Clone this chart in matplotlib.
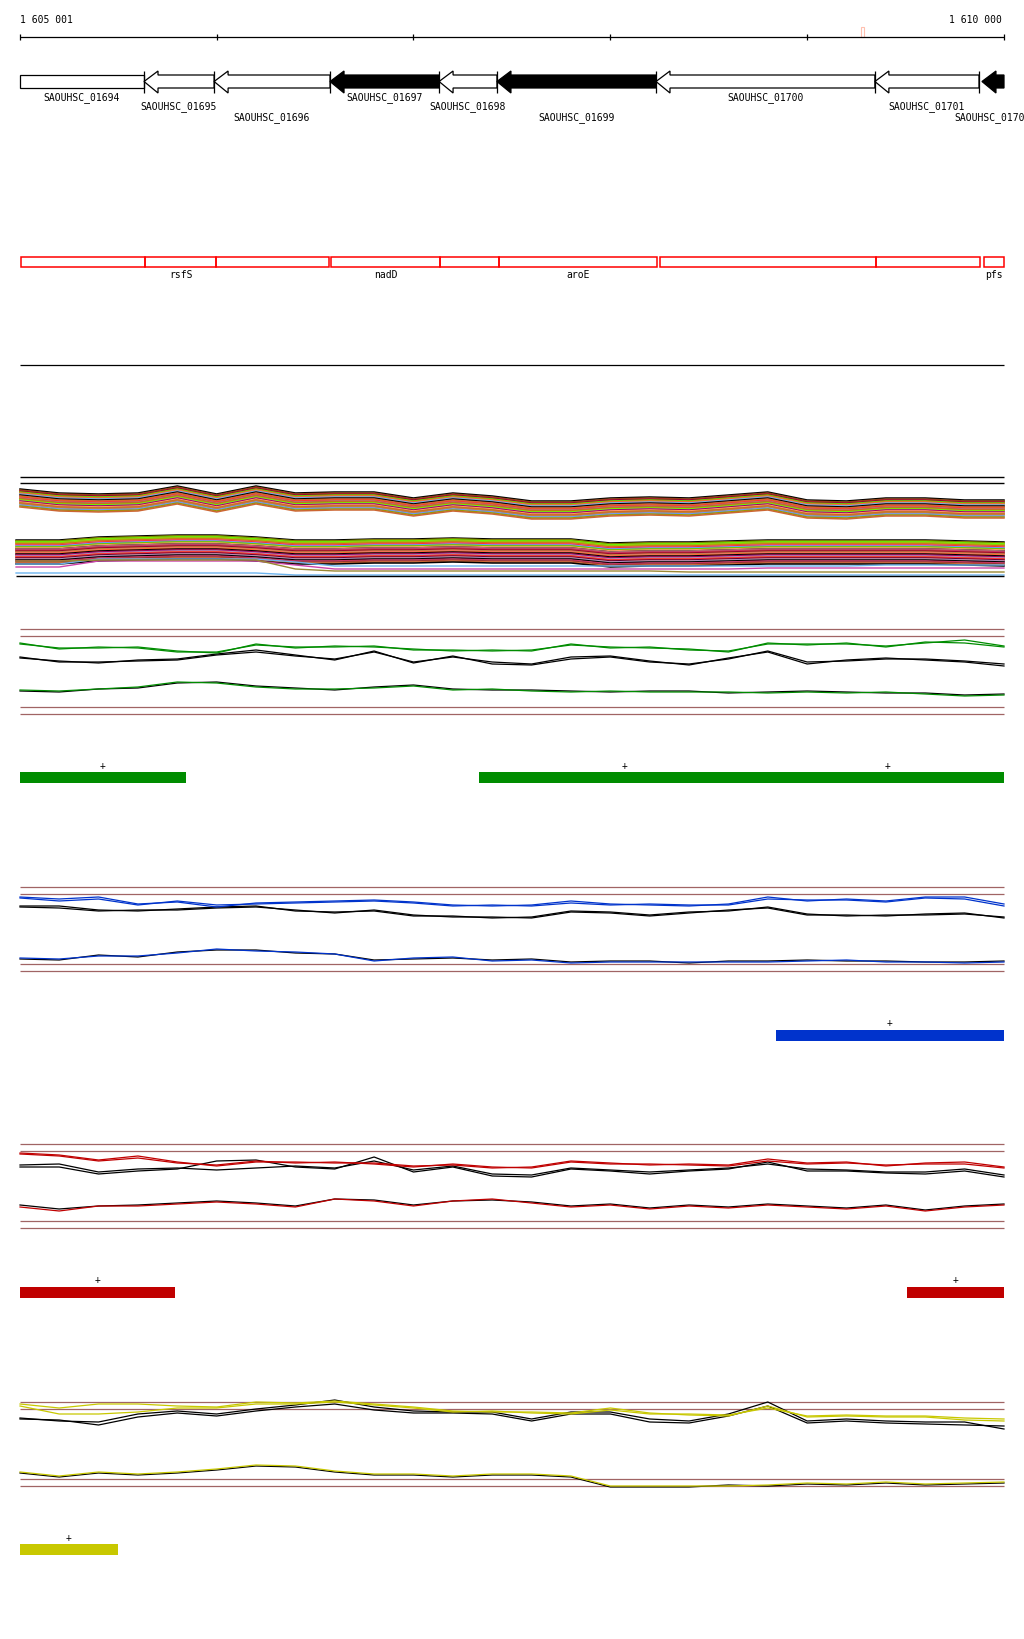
import matplotlib
matplotlib.use('Agg')
import matplotlib.pyplot as plt
from matplotlib.patches import Polygon, Rectangle

plt.rcParams['font.family'] = ['DejaVu Sans Mono']

W, H = 1024, 1640
START, END = 1605001, 1610000
BP_PER_PX = (END - START) / 984.0
XL = (START - 20 * BP_PER_PX, START + (W - 20) * BP_PER_PX)

# ---------------- data ----------------
ruler_ticks = [1605001, 1606000, 1607000, 1608000, 1609000, 1610000]
ruler_left_label = '1 605 001'
ruler_right_label = '1 610 000'
marker_pos = 1609274

gene_names = ['SAOUHSC_01694', 'SAOUHSC_01695', 'SAOUHSC_01696', 'SAOUHSC_01697',
              'SAOUHSC_01698', 'SAOUHSC_01699', 'SAOUHSC_01700', 'SAOUHSC_01701',
              'SAOUHSC_01702']
gene_starts = [1604300, 1605631, 1605987, 1606576, 1607130, 1607424, 1608232, 1609344, 1609888]
gene_ends = [1605631, 1605987, 1606576, 1607130, 1607424, 1608232, 1609344, 1609873, 1610500]
gene_filled = [False, False, False, True, False, True, False, False, True]

dom_starts = [1605006, 1605636, 1605997, 1606581, 1607135, 1607434, 1608252, 1609349, 1609898]
dom_ends = [1605636, 1605997, 1606571, 1607135, 1607434, 1608237, 1609349, 1609877, 1610000]
dom_labels = ['', 'rsfS', '', 'nadD', '', 'aroE', '', '', 'pfs']

sample_pos = [1605001] + list(range(1605200, 1610001, 200))
lower_pos = [1604981] + sample_pos[1:]

# dense bundle (heights above bottom rule)
ub_profile = [87, 83, 82, 83, 90, 82, 90, 83, 84, 84, 78, 83, 80, 75, 75, 78, 79, 78, 81, 84, 76, 75, 78, 78, 76, 76]
ub_offsets = [0, 1, 2, 2, 3, 4, 4, 5, 6, 6, 7, 8, 8, 9, 10, 10, 11, 12, 12, 13, 14, 14, 15, 16, 17, 18]
ub_colors = ['#000000', '#8B4513', '#D2691E', '#990033', '#66CC00', '#999900', '#FF6633', '#6CB4EE',
             '#C8A0D0', '#000000', '#CC6633', '#99CC00', '#FF3333', '#B07070', '#808000', '#D2691E',
             '#66FF00', '#CC99CC', '#990066', '#FF9966', '#999933', '#D2691E', '#C08040', '#6699FF',
             '#999900', '#CC6633']
lb_profile = [36, 36, 39, 40, 41, 41, 39, 36, 36, 37, 37, 38, 37, 37, 37, 33, 34, 34, 35, 36, 36, 36, 36, 36, 35, 34]
lb_offsets = [0, 1, 1, 2, 3, 3, 4, 5, 5, 6, 7, 7, 8, 9, 9, 10, 11, 11, 12, 13, 13, 14, 15, 15,
              16, 17, 17, 18, 19, 19, 20, 21, 22, 23, 24]
lb_colors = ['#000000', '#999900', '#808000', '#66FF00', '#CC6633', '#99CC00', '#D2691E', '#C8A0D0',
             '#FF3333', '#6699FF', '#999933', '#66CC00', '#FF9966', '#000000', '#B07070', '#CC3366',
             '#D2691E', '#990033', '#C08040', '#CC99CC', '#FF6633', '#000000', '#8B4513', '#990066',
             '#B090C0', '#D2691E', '#FF3333', '#660033', '#CC6633', '#B090C0', '#000000', '#CC3366',
             '#993333', '#CC6633', '#000000']
lb_extra = [
    [12, 12, 17, 17, 17, 17, 17, 14, 10, 10, 10, 10, 10, 10, 10, 10, 10, 10, 10, 10, 10, 10, 11, 11, 11, 11],
    [9, 9, 15, 15, 15, 15, 15, 11, 7, 7, 7, 7, 7, 7, 7, 7, 7, 7, 7, 8, 8, 8, 8, 8, 8, 8],
    [3, 3, 3, 3, 3, 3, 3, 1, 1, 1, 1, 1, 1, 1, 1, 1, 1, 1, 1, 1, 1, 1, 1, 1, 1, 1],
    [15, 15, 16, 16, 16, 16, 16, 7, 5, 5, 5, 5, 5, 5, 5, 5, 5, 4, 4, 4, 4, 4, 4, 4, 4, 4],
]
lb_extra_colors = ['#6CB4EE', '#CC44AA', '#6CB4EE', '#998833']

# coverage panels (heights above the lowest rule)
g_up_a = [71, 65, 67, 66, 62, 62, 69, 67, 67, 68, 64, 64, 63, 64, 69, 67, 66, 65, 62, 71, 69, 71, 67, 72, 71, 67]
g_up_b = [70, 66, 66, 67, 63, 61, 70, 66, 68, 67, 65, 63, 64, 63, 70, 66, 67, 64, 63, 70, 70, 70, 68, 71, 74, 68]
g_bk_a = [56, 53, 51, 54, 55, 60, 64, 59, 54, 63, 51, 58, 50, 49, 55, 57, 52, 50, 55, 63, 52, 53, 55, 55, 53, 50]
g_bk_b = [57, 52, 52, 53, 54, 59, 62, 58, 55, 62, 52, 57, 52, 50, 57, 58, 53, 49, 56, 62, 50, 54, 56, 54, 52, 48]
g_lo_c = [24, 23, 25, 27, 32, 31, 27, 25, 25, 26, 28, 24, 25, 23, 22, 23, 22, 22, 22, 21, 22, 21, 22, 20, 18, 19]
g_lo_k = [23, 22, 25, 26, 31, 32, 28, 26, 24, 27, 29, 25, 24, 24, 23, 22, 23, 23, 21, 22, 23, 22, 21, 21, 19, 20]

b_up_a = [74, 72, 74, 67, 69, 64, 68, 69, 70, 71, 69, 66, 65, 66, 70, 67, 66, 65, 67, 74, 70, 72, 70, 74, 74, 67]
b_up_b = [73, 70, 72, 66, 70, 66, 67, 68, 69, 70, 68, 65, 66, 65, 68, 66, 67, 66, 66, 72, 71, 71, 69, 73, 72, 65]
b_bk_a = [65, 65, 61, 60, 62, 64, 65, 60, 59, 60, 55, 55, 53, 54, 60, 59, 56, 59, 60, 64, 57, 55, 56, 56, 57, 54]
b_bk_b = [64, 63, 60, 61, 61, 63, 64, 61, 58, 61, 56, 54, 54, 53, 59, 58, 55, 58, 61, 63, 56, 56, 55, 57, 58, 53]
b_lo_c = [13, 12, 15, 15, 18, 22, 20, 19, 17, 10, 13, 14, 10, 11, 8, 9, 9, 9, 9, 9, 10, 11, 9, 9, 8, 9]
b_lo_k = [12, 11, 16, 14, 19, 21, 21, 18, 17, 11, 12, 13, 11, 12, 9, 10, 10, 8, 10, 10, 11, 10, 10, 9, 9, 10]

r_up_a = [75, 73, 68, 72, 66, 62, 66, 66, 65, 65, 62, 63, 60, 61, 67, 65, 63, 64, 63, 69, 65, 66, 62, 65, 66, 61]
r_up_b = [74, 72, 67, 70, 65, 63, 67, 65, 66, 64, 61, 64, 61, 60, 66, 64, 64, 63, 62, 67, 64, 65, 63, 64, 64, 60]
r_bk_a = [61, 61, 54, 57, 59, 67, 68, 61, 59, 71, 56, 61, 52, 51, 59, 57, 54, 57, 59, 66, 57, 57, 55, 54, 57, 51]
r_bk_b = [63, 64, 56, 59, 60, 58, 60, 62, 60, 67, 58, 62, 54, 53, 60, 58, 56, 58, 60, 64, 59, 58, 56, 56, 59, 53]
r_lo_c = [21, 17, 22, 22, 24, 26, 24, 21, 29, 27, 22, 27, 29, 25, 21, 23, 19, 22, 20, 23, 21, 19, 22, 17, 21, 23]
r_lo_k = [23, 19, 22, 23, 25, 27, 25, 22, 29, 28, 23, 27, 28, 26, 22, 24, 20, 23, 21, 24, 22, 20, 23, 18, 22, 24]

y_up_a = [82, 78, 82, 82, 80, 79, 84, 83, 85, 82, 79, 75, 74, 74, 73, 78, 73, 71, 70, 80, 69, 70, 69, 69, 66, 65]
y_up_b = [80, 72, 72, 74, 78, 78, 82, 82, 84, 81, 78, 74, 75, 73, 72, 76, 72, 72, 71, 78, 70, 71, 70, 70, 68, 67]
y_bk_a = [68, 65, 64, 72, 75, 72, 77, 81, 86, 79, 75, 74, 74, 67, 74, 74, 67, 65, 72, 84, 65, 67, 65, 64, 64, 57]
y_bk_b = [67, 66, 61, 69, 73, 70, 75, 79, 82, 76, 73, 73, 72, 65, 72, 72, 64, 63, 70, 80, 63, 65, 63, 62, 61, 60]
y_lo_c = [14, 10, 14, 12, 14, 17, 21, 20, 15, 12, 12, 10, 12, 12, 10, 0, 0, 0, 0, 1, 3, 2, 4, 2, 3, 4]
y_lo_k = [13, 9, 13, 11, 13, 16, 20, 19, 14, 11, 11, 9, 11, 11, 9, -1, -1, -1, 1, 0, 2, 1, 3, 1, 2, 3]

# feature bars
g_bars = [(1605001, 1605844), (1607333, 1608815), (1608815, 1610000)]
b_bars = [(1608842, 1610000)]
r_bars = [(1605001, 1605788), (1609507, 1610000)]
yl_bars = [(1605001, 1605499)]

GREEN, BLUE, RED, YELLOW = '#008C00', '#0033CC', '#C00000', '#C8C800'
BROWN = '#A06464'
FS = 7

# ---------------- figure ----------------
fig = plt.figure(figsize=(W / 100, H / 100), dpi=100)
ax = fig.add_axes([0, 0, 1, 1])
ax.set_xlim(XL)
ax.set_ylim(H, 0)
ax.axis('off')

# ruler
ax.hlines(38, START, END, color='black', lw=0.9)
ax.vlines(ruler_ticks, 35, 41, color='black', lw=0.9)
ax.text(START, 20, ruler_left_label, ha='left', va='center', fontsize=FS)
ax.text(END - 2 * BP_PER_PX, 20, ruler_right_label, ha='right', va='center', fontsize=FS)
ax.add_patch(Rectangle((marker_pos, 28), 3 * BP_PER_PX, 10, fill=False, edgecolor='#FFC0B0', lw=0.8))

# genes
hl = 14 * BP_PER_PX
rows = [98, 107, 118]
for i, (nm, s, e, f) in enumerate(zip(gene_names, gene_starts, gene_ends, gene_filled)):
    vs, ve = max(s, START), min(e, END)
    fc = 'black' if f else 'white'
    if s >= START:
        pts = [(s, 82.5), (s + hl, 72), (s + hl, 76), (ve, 76), (ve, 89), (s + hl, 89), (s + hl, 94)]
    else:
        pts = [(vs, 76), (ve, 76), (ve, 89), (vs, 89)]
    ax.add_patch(Polygon(pts, closed=True, facecolor=fc, edgecolor='black', lw=0.9))
    if e <= END:
        ax.vlines(e, 72, 94, color='black', lw=0.9)
    ax.text((vs + ve) / 2, rows[i % 3], nm, ha='center', va='center', fontsize=FS)

# domain boxes
for s, e, lab in zip(dom_starts, dom_ends, dom_labels):
    ax.add_patch(Rectangle((s, 258), e - s, 10, fill=False, edgecolor='#FF0000', lw=1.1))
    if lab:
        ax.text((s + e) / 2, 275, lab, ha='center', va='center', fontsize=FS)

ax.hlines(366, START, END, color='black', lw=0.9)


def track_axes(base, top, bottom):
    a = fig.add_axes([0, 1 - bottom / H, 1, (bottom - top) / H])
    a.set_xlim(XL)
    a.set_ylim(base - bottom, base - top)
    a.axis('off')
    return a


# dense bundle
da = track_axes(577, 470, 580)
da.hlines([99, 93], START, END, color='black', lw=1.0)
for off, c in zip(ub_offsets, ub_colors):
    da.plot(sample_pos, [p - off for p in ub_profile], color=c, lw=1.1)
for off, c in zip(lb_offsets, lb_colors):
    da.plot(lower_pos, [p - off for p in lb_profile], color=c, lw=1.1)
for vals, c in zip(lb_extra, lb_extra_colors):
    da.plot(lower_pos, vals, color=c, lw=1.0)
da.hlines(0, lower_pos[0], END, color='black', lw=1.0)


def panel(base, top, bottom, color, series, levels):
    a = track_axes(base, top, bottom)
    a.hlines(levels, START, END, color=BROWN, lw=0.9)
    up_a, up_b, bk_a, bk_b, lo_c, lo_k = series
    for v in (bk_a, bk_b, lo_k):
        a.plot(sample_pos, v, color='black', lw=0.9)
    for v in (up_a, up_b, lo_c):
        a.plot(sample_pos, v, color=color, lw=0.9)
    return a


panel(715, 622, 723, GREEN, (g_up_a, g_up_b, g_bk_a, g_bk_b, g_lo_c, g_lo_k), [0, 7, 78, 85])
panel(972, 880, 980, BLUE, (b_up_a, b_up_b, b_bk_a, b_bk_b, b_lo_c, b_lo_k), [0, 7, 77, 84])
panel(1229, 1137, 1237, RED, (r_up_a, r_up_b, r_bk_a, r_bk_b, r_lo_c, r_lo_k), [0, 7, 77, 84])
panel(1487, 1390, 1495, YELLOW, (y_up_a, y_up_b, y_bk_a, y_bk_b, y_lo_c, y_lo_k), [0, 7, 77, 84])


def bars(feats, color, yc):
    for s, e in feats:
        ax.barh(yc, e - s, left=s, height=11, color=color, linewidth=0)
        ax.text((s + e) / 2, yc - 12.5, '+', ha='center', va='center', fontsize=FS)


bars(g_bars, GREEN, 778.5)
bars(b_bars, BLUE, 1036)
bars(r_bars, RED, 1293)
bars(yl_bars, YELLOW, 1550.5)

fig.savefig('out.png', dpi=100, facecolor='white')
